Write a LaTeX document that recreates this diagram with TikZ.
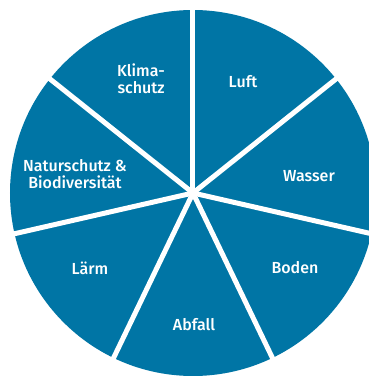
\documentclass[tikz,border=0pt]{standalone}
\usepackage{fontspec}
\setmainfont{Fira Sans}[BoldFont={Fira Sans Medium}]
\definecolor{umweltblau}{RGB}{0,117,165}

\begin{document}
\begin{tikzpicture}[
  x=1pt, y=1pt,
  font=\bfseries\fontsize{16}{17}\selectfont,
  seg label/.style = {text=white, align=center, inner sep=0pt},
  gap line/.style  = {draw=white, line width=5pt, line cap=butt},
]

% ── Geometry ───────────────────────────────────────────────────────────────
% 1 unit = 1 px of the reference; disc centre at (0,0)
\def\R{183}
\def\nSeg{7}
\pgfmathsetmacro{\segAngle}{360/\nSeg}   % 51.43 deg per sector

\useasboundingbox (-193,-183) rectangle (175,193);

% ── Disc and white gaps ────────────────────────────────────────────────────
\coordinate (centre) at (0,0);
\fill[umweltblau] (centre) circle (\R);

\foreach \k in {0,...,6} {
  \pgfmathsetmacro{\ang}{90 - \k*\segAngle}
  \draw[gap line] (centre) -- (\ang:\R+10);
}

% ── Sector labels ──────────────────────────────────────────────────────────
\node[seg label] (luft)   at (50,111)    {Luft};
\node[seg label] (wasser) at (116,17)    {Wasser};
\node[seg label] (boden)  at (102,-75)   {Boden};
\node[seg label] (abfall) at (1,-132)    {Abfall};
\node[seg label] (laerm)  at (-103,-75)  {Lärm};
\node[seg label] (natur)  at (-118,18.5) {Naturschutz \&\\Biodiversität};
\node[seg label] (klima)  at (-52,114.5) {Klima-\\schutz};

\end{tikzpicture}
\end{document}
